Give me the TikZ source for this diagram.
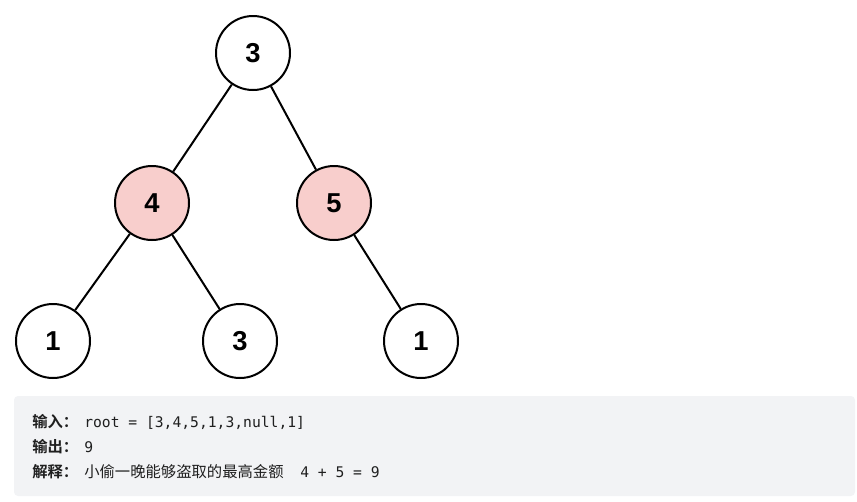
\documentclass[tikz,border=0pt]{standalone}
\usepackage{fontspec}
\setmainfont{Liberation Sans}
\newfontfamily\cjk{Noto Sans CJK SC}
\newfontfamily\cjkb{Noto Sans CJK SC Bold}
\newfontfamily\monof{DejaVu Sans Mono}
\begin{document}
\begin{tikzpicture}[x=0.75pt,y=-0.75pt,
  tnode/.style={circle,draw=black,line width=1.5pt,minimum size=55.5pt,inner sep=0pt,
    font=\fontsize{20.5}{24}\selectfont\bfseries},
  edge/.style={line width=1.5pt,black},
  ltext/.style={anchor=base west,inner sep=0pt,text=txt}]
\definecolor{pinkf}{HTML}{F8CECC}
\definecolor{boxbg}{HTML}{F2F3F5}
\definecolor{txt}{HTML}{1F1F1F}
\useasboundingbox (0,0) rectangle (857,501);
\node[tnode] (r) at (253,53) {3};
\node[tnode,fill=pinkf] (a) at (152,203) {4};
\node[tnode,fill=pinkf] (b) at (334,203) {5};
\node[tnode] (c) at (53,341) {1};
\node[tnode] (d) at (240,341) {3};
\node[tnode] (e) at (421,341) {1};
\draw[edge] (r) -- (a);
\draw[edge] (r) -- (b);
\draw[edge] (a) -- (c);
\draw[edge] (a) -- (d);
\draw[edge] (b) -- (e);
\fill[boxbg,rounded corners=3pt] (14,396) rectangle (855,496);
\node[ltext] (l1) at (32,427)
  {\fontsize{11.5}{13}\selectfont{\cjkb 输入：}\hspace{4.5pt}{\fontsize{11}{13}\selectfont\monof root = [3,4,5,1,3,null,1]}};
\node[ltext] (l2) at (32,452)
  {\fontsize{11.5}{13}\selectfont{\cjkb 输出：}\hspace{4.5pt}{\fontsize{11}{13}\selectfont\monof 9}};
\node[ltext] (l3) at (32,477)
  {\fontsize{11.5}{13}\selectfont{\cjkb 解释：}\hspace{4.5pt}{\cjk 小偷一晚能够盗取的最高金额}\hspace{12.5pt}{\fontsize{11}{13}\selectfont\monof 4 + 5 = 9}};
\end{tikzpicture}
\end{document}
